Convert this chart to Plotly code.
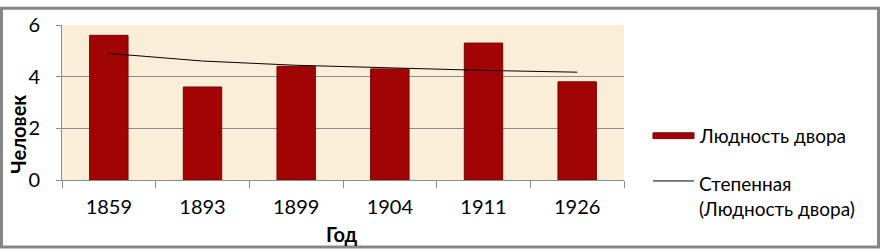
import numpy as np
import plotly.graph_objects as go

years = ["1859", "1893", "1899", "1904", "1911", "1926"]
people = [5.6, 3.6, 4.4, 4.3, 5.3, 3.8]
y_ticks = [0, 2, 4, 6]
series_name = "Людность двора"
trend_name = "Степенная<br>(Людность двора)"

# Power trendline (Excel "Степенная"): y = a * x^b fitted on category index
idx = np.arange(1, len(people) + 1)
b, lna = np.polyfit(np.log(idx), np.log(people), 1)
trend = np.exp(lna) * idx ** b

W, H = 880, 251
L, R, T, B = 62, 256, 19, 71
pw, ph = W - L - R, H - T - B


def px(xp):
    return (xp - L) / pw


def py(yp):
    return (H - yp - B) / ph


BAR = "#A00404"
GRID = "#8C8C8C"
font = "Lato, 'Open Sans', sans-serif"

fig = go.Figure()
fig.add_trace(go.Bar(
    x=years, y=people, name=series_name,
    marker=dict(color=BAR, line=dict(color="#7C0000", width=1)),
))
fig.add_trace(go.Scatter(
    x=years, y=trend, mode="lines", name=trend_name,
    line=dict(color="black", width=1),
))

annotations = [
    dict(text="<b>Человек</b>", textangle=-90, x=px(18), y=py(133),
         font=dict(size=20)),
    dict(text="<b>Год</b>", x=px(342), y=py(236), font=dict(size=20)),
    dict(text=series_name, x=px(697), y=py(134), xanchor="left",
         font=dict(size=19)),
    dict(text=trend_name, x=px(697), y=py(197), xanchor="left", align="left",
         font=dict(size=19)),
]
for a in annotations:
    a.update(xref="paper", yref="paper", showarrow=False)
    a.setdefault("xanchor", "center")
    a.setdefault("yanchor", "middle")

shapes = [
    dict(type="rect", x0=px(1.5), x1=px(W - 1.5), y0=py(H - 1.5), y1=py(1.5),
         line=dict(color="#868686", width=3), fillcolor="rgba(0,0,0,0)",
         layer="above"),
    # legend icons
    dict(type="rect", x0=px(653), x1=px(694), y0=py(137), y1=py(131),
         line=dict(color="#7C0000", width=1), fillcolor=BAR),
    dict(type="line", x0=px(653), x1=px(694), y0=py(181), y1=py(181),
         line=dict(color="black", width=1)),
]
for s in shapes:
    s.update(xref="paper", yref="paper")

fig.update_layout(
    width=W, height=H,
    margin=dict(l=L, r=R, t=T, b=B, pad=0),
    paper_bgcolor="white",
    plot_bgcolor="#FAEED9",
    bargap=0.59,
    font=dict(family=font, size=18, color="black"),
    showlegend=False,
    xaxis=dict(
        showgrid=False, showline=True, linecolor=GRID, linewidth=1,
        ticks="outside", ticklen=7, tickcolor=GRID, tickson="boundaries",
        tickfont=dict(size=20), fixedrange=True, ticklabelstandoff=9,
    ),
    yaxis=dict(
        range=[0, 6], tickvals=y_ticks, showgrid=True, gridcolor=GRID,
        gridwidth=1, showline=True, linecolor=GRID, linewidth=1,
        ticks="outside", ticklen=5, tickcolor=GRID,
        tickfont=dict(size=20), zeroline=False, ticklabelstandoff=12,
        fixedrange=True,
    ),
    annotations=annotations,
    shapes=shapes,
)

fig.write_html("out.html")
